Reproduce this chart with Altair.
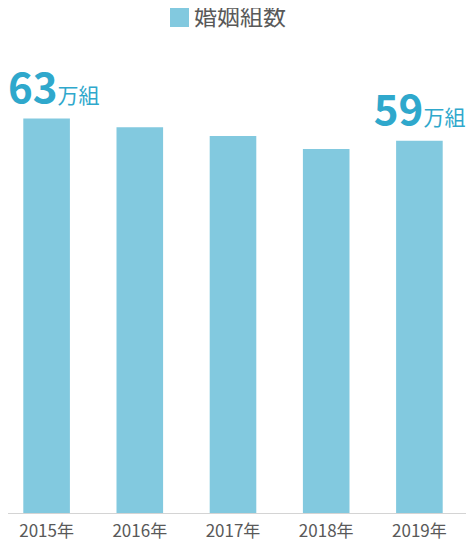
import altair as alt
import pandas as pd

years = ["2015年", "2016年", "2017年", "2018年", "2019年"]
values = [63.5, 62.1, 60.7, 58.6, 59.9]
series_name = "婚姻組数"

label_years = ["2015年", "2019年"]
label_values = [63.5, 59.9]
label_nums = ["63", "59"]
label_unit = "万組"

FONT = "Noto Sans CJK JP"
BAR = "#82c9df"
TEAL = "#2fa8cc"
GREY = "#595959"

df = pd.DataFrame({"year": years, "value": values, "series": [series_name] * len(years)})
lab = pd.DataFrame({"year": label_years, "value": label_values, "num": label_nums,
                    "unit": [label_unit] * len(label_years)})

x = alt.X("year:N", sort=years, title=None,
          scale=alt.Scale(paddingInner=0.5, paddingOuter=0.25),
          axis=alt.Axis(labelAngle=0, ticks=False, domainColor="#d4d4d4", domainWidth=1,
                        labelFont=FONT, labelFontSize=17, labelColor=GREY, labelPadding=10,
                        grid=False))
y = alt.Y("value:Q", title=None, scale=alt.Scale(domain=[0, 80], nice=False), axis=None)

bars = alt.Chart(df).mark_bar().encode(
    x=x, y=y,
    color=alt.Color("series:N", scale=alt.Scale(range=[BAR]),
                    legend=alt.Legend(title=None, orient="none", legendX=168, legendY=-10,
                                      direction="horizontal", symbolType="square",
                                      symbolSize=361, symbolStrokeWidth=0, symbolOpacity=1,
                                      labelFont=FONT, labelFontSize=23, labelColor=GREY,
                                      labelOffset=3)),
)


def value_label(year, shift):
    base = alt.Chart(lab).transform_filter(alt.datum.year == year)
    n = base.mark_text(font=FONT, fontSize=42, fontWeight="bold", color=TEAL,
                       align="right", baseline="alphabetic", dx=shift, dy=-16).encode(
        x=alt.X("year:N", sort=years), y=alt.Y("value:Q"), text="num:N")
    u = base.mark_text(font=FONT, fontSize=21, color=TEAL,
                       align="left", baseline="alphabetic", dx=shift, dy=-16).encode(
        x=alt.X("year:N", sort=years), y=alt.Y("value:Q"), text="unit:N")
    return [n, u]


labels = value_label("2015年", 11) + value_label("2019年", 4)

chart = alt.layer(bars, *labels).properties(
    width=466, height=497,
    padding={"left": -8, "top": 8, "right": 0, "bottom": 29},
    autosize=alt.AutoSizeParams(type="none"),
).configure_view(stroke=None)

chart.save("out.html", embed_options={"renderer": "svg", "actions": False})
